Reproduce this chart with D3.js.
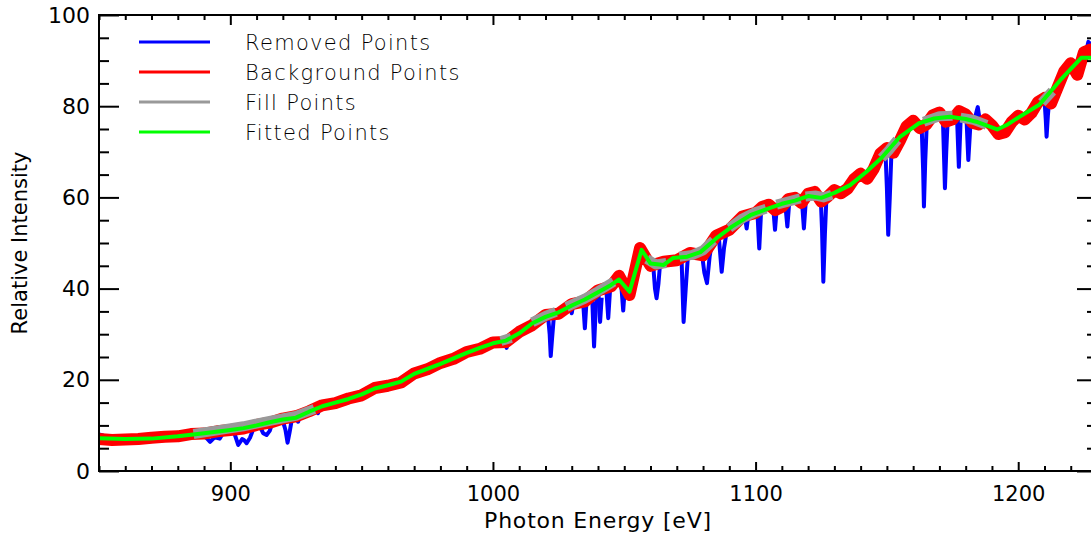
<!DOCTYPE html>
<html>
<head>
<meta charset="utf-8">
<script src="https://cdn.jsdelivr.net/npm/d3@7"></script>
<style>
  html, body { margin: 0; padding: 0; background: #fff; overflow: hidden; }
  svg { display: block; }
  .lbl { font-family: "DejaVu Sans", "Liberation Sans", sans-serif; fill: #000; }
</style>
</head>
<body>
<div id="chart"></div>
<script>
// fitted curve (green)
const fitEnergy = [850, 860, 870, 880, 890, 900, 905, 910, 915, 920, 925, 930, 935, 940, 945, 950, 955, 960, 965, 970,
  975, 980, 985, 990, 995, 1000, 1005, 1010, 1015, 1020, 1025, 1030, 1035, 1040, 1045, 1048, 1052, 1056.6, 1060, 1065,
  1068.5, 1074, 1079, 1085, 1091, 1098, 1105, 1110, 1115, 1120, 1125, 1130, 1136, 1142, 1148, 1155, 1162, 1168, 1174, 1180,
  1184, 1192, 1196, 1200, 1208, 1216, 1224, 1230];
const fitIntensity = [7.2, 7.0, 7.1, 7.6, 8.3, 9.0, 9.4, 10.0, 10.7, 11.3, 11.7, 13.0, 14.2, 15.0, 15.8, 16.8, 18.1, 18.8, 19.6, 21.3,
  22.4, 23.5, 24.7, 25.9, 27.0, 28.0, 28.6, 30.2, 32.4, 33.8, 34.8, 36.3, 37.6, 39.2, 40.8, 42.0, 39.3, 48.5, 45.5, 45.2,
  46.7, 47.0, 48.0, 51.0, 53.6, 56.1, 57.6, 58.6, 59.3, 60.3, 59.9, 61.0, 62.7, 65.5, 68.7, 73.3, 76.2, 77.3, 77.7, 77.2,
  76.6, 74.9, 76.0, 77.5, 80.3, 85.7, 90.6, 90.6];

// background points (red)
const bgEnergy = [850, 855, 860, 865, 870, 875, 880, 885, 890, 895, 900, 905, 910, 915, 920, 925, 930, 935, 940, 945,
  950, 955, 960, 965, 970, 975, 980, 985, 990, 995, 1000, 1005, 1010, 1015, 1020, 1025, 1030, 1035, 1040, 1045,
  1048, 1052, 1056, 1060, 1065, 1070, 1075, 1080, 1085, 1090, 1095,
  1100, 1102.5, 1105, 1107.5, 1110, 1112.5, 1115, 1117.5, 1120, 1122.5, 1125, 1127.5, 1130, 1132.5, 1135, 1137.5,
  1140, 1142.5, 1145, 1147.5, 1150, 1152.5, 1155, 1157.5, 1160, 1162.5, 1165, 1167.5, 1170, 1172.5, 1175, 1177.5,
  1180, 1182.5, 1185, 1187.5, 1190, 1192.5, 1195, 1197.5, 1200, 1202.5, 1205, 1207.5, 1210, 1212.5, 1215, 1217.5,
  1220, 1222.5, 1225, 1227.5, 1230];
const bgIntensity = [7.0, 6.8, 6.9, 7.0, 7.3, 7.5, 7.6, 8.1, 8.2, 8.7, 9.0, 9.3, 10.1, 10.6, 11.5, 12.0, 13.1, 14.4, 14.9, 15.9,
  16.6, 18.2, 18.7, 19.4, 21.4, 22.3, 23.7, 24.6, 26.1, 26.8, 28.2, 28.3, 30.5, 32.0, 34.2, 34.5, 36.6, 37.2, 39.6, 40.5,
  42.8, 38.6, 48.9, 45.0, 45.9, 46.2, 47.8, 47.3, 51.6, 52.9, 55.8,
  56.6, 57.9, 58.4, 57.2, 57.9, 59.6, 59.9, 58.8, 60.8, 61.2, 59.1, 60.2, 61.6, 60.9, 61.9, 64.0,
  65.2, 64.1, 66.3, 69.6, 70.8, 69.8, 72.5, 75.6, 76.8, 75.2, 76.0, 78.0, 78.6, 76.6, 77.1, 78.9,
  78.2, 76.4, 76.0, 77.1, 75.8, 73.9, 74.3, 76.5, 77.9, 77.1, 78.5, 80.9, 81.8, 80.6, 84.1, 87.6,
  89.4, 86.9, 91.8, 92.4, 91.0];

// fill points (grey), one list per gap
const fillSegments = [
  [[886, 8.1], [895, 8.9], [905, 9.8], [915, 11.0], [925, 12.1], [932, 13.6]],
  [[1003, 28.5], [1007, 29.2]],
  [[1015, 32.6], [1020, 34.0], [1024, 34.9]],
  [[1028, 36.0], [1035, 37.8], [1040, 39.4], [1046, 41.5]],
  [[1058.6, 46.5], [1062, 45.3], [1066, 45.6]],
  [[1071, 47.0], [1076, 47.4], [1080, 48.4], [1084, 50.6]],
  [[1090, 53.3], [1095, 55.4], [1100, 56.8], [1104, 57.5]],
  [[1108, 58.4], [1112, 59.0], [1117, 59.8]],
  [[1119, 60.2], [1123, 60.4], [1126, 60.0], [1129, 60.6]],
  [[1148, 68.6], [1151, 70.5], [1154, 72.6]],
  [[1164, 76.6], [1170, 77.8], [1175, 77.9]],
  [[1178, 77.5], [1183, 77.0], [1188, 75.9]],
  [[1209, 80.8], [1213, 83.3]]
];

// removed points (blue), one list per absorption feature
const removedSegments = [
  [[850, 8.0], [851.5, 7.8], [852, 7.2]],
  [[889, 8.2], [891, 7.2], [892.3, 6.4], [894, 7.4], [896, 7.1], [897.5, 8.6]],
  [[901, 9.0], [902, 7.5], [903, 5.7], [904.5, 7.0], [905.2, 6.8], [906.2, 6.1], [907.5, 7.3], [909, 9.6]],
  [[911, 10.1], [912.5, 8.3], [913.8, 7.9], [915, 8.8], [916, 10.6]],
  [[920, 11.0], [921, 9.0], [921.8, 6.2], [922.6, 8.6], [923.5, 11.6]],
  [[925, 12.0], [925.8, 10.8], [926.6, 12.2]],
  [[932.5, 13.9], [933.4, 12.7], [934.2, 14.2]],
  [[1004.6, 28.6], [1005.2, 27.0], [1005.8, 28.8]],
  [[1021, 33.8], [1021.6, 30.0], [1022, 25.2], [1022.5, 29.0], [1023.2, 33.9]],
  [[1029.5, 35.9], [1030, 34.6], [1030.5, 36.2]],
  [[1034.3, 37.4], [1035, 31.3], [1035.6, 37.1]],
  [[1037.8, 37.8], [1038.5, 27.3], [1039.2, 36.5], [1040, 38.5]],
  [[1040.2, 38.6], [1040.8, 32.7], [1041.4, 38.0]],
  [[1043.2, 39.5], [1043.9, 33.5], [1044.6, 39.9]],
  [[1048.9, 40.5], [1049.6, 35.2], [1050.3, 40.8]],
  [[1061, 45.3], [1061.7, 40.0], [1062.3, 37.9], [1063, 41.0], [1063.6, 45.2]],
  [[1071.8, 46.8], [1072.6, 32.7], [1073.4, 40.0], [1074.2, 46.9]],
  [[1079.5, 48.0], [1080.5, 43.5], [1081.5, 41.2], [1082.5, 47.0], [1083, 48.8]],
  [[1086, 51.3], [1087.1, 43.7], [1088, 49.0], [1089, 52.5]],
  [[1096, 55.5], [1096.6, 53.2], [1097.2, 55.9]],
  [[1100.7, 56.7], [1101.4, 48.8], [1102.1, 57.0]],
  [[1106.7, 57.9], [1107.4, 52.9], [1108.1, 58.0]],
  [[1111.3, 58.6], [1112.1, 53.6], [1112.8, 58.8]],
  [[1117.6, 59.6], [1118.4, 53.2], [1119.2, 59.9]],
  [[1124.8, 60.1], [1125.3, 53.0], [1125.8, 41.5], [1126.4, 52.0], [1127, 60.3]],
  [[1149.5, 69.4], [1150, 62.0], [1150.5, 51.8], [1151.1, 60.0], [1151.8, 70.9]],
  [[1163.2, 76.2], [1163.8, 66.0], [1164.1, 58.0], [1164.6, 68.0], [1165.2, 76.4]],
  [[1171.3, 77.7], [1171.8, 68.0], [1172.1, 62.0], [1172.6, 70.0], [1173.2, 77.7]],
  [[1176.7, 77.6], [1177.4, 66.7], [1178.1, 77.4]],
  [[1180.3, 77.3], [1181, 68.2], [1181.7, 75.0], [1182.4, 77.0]],
  [[1183.5, 77.0], [1184, 78.5], [1184.6, 79.8], [1185.2, 77.5]],
  [[1210, 81.5], [1210.5, 77.0], [1210.8, 73.3], [1211.3, 78.0], [1212, 82.5]],
  [[1225.5, 91.0], [1226.7, 94.1], [1227.5, 93.6], [1228.5, 91.5], [1230, 91.0]]
];

const legendNames = ['Removed Points', 'Background Points', 'Fill Points', 'Fitted Points'];
const legendColors = ['#0000ff', '#ff0000', '#999999', '#00ff00'];

const xMajorTicks = [900, 1000, 1100, 1200];
const yMajorTicks = [0, 20, 40, 60, 80, 100];

const width = 1091, height = 533;
const margin = { left: 99, right: 1097, top: 15, bottom: 471 };

const svg = d3.select('#chart').append('svg')
  .attr('width', width)
  .attr('height', height);

const x = d3.scaleLinear().domain([850, 1230]).range([margin.left, margin.right]);
const y = d3.scaleLinear().domain([0, 100]).range([margin.bottom, margin.top]);

svg.append('clipPath').attr('id', 'plotclip')
  .append('rect')
  .attr('x', margin.left).attr('y', margin.top)
  .attr('width', margin.right - margin.left).attr('height', margin.bottom - margin.top);

const line = d3.line().x(d => x(d[0])).y(d => y(d[1]));
const plot = svg.append('g').attr('clip-path', 'url(#plotclip)');

// 被去掉的点
plot.selectAll('path.removed')
  .data(removedSegments)
  .enter().append('path')
  .attr('class', 'removed')
  .attr('d', line)
  .attr('fill', 'none')
  .attr('stroke', legendColors[0])
  .attr('stroke-width', 4)
  .attr('stroke-linejoin', 'round');

// 背景点
plot.append('path')
  .attr('d', line(bgEnergy.map((e, i) => [e, bgIntensity[i]])))
  .attr('fill', 'none')
  .attr('stroke', legendColors[1])
  .attr('stroke-width', 12)
  .attr('stroke-linejoin', 'round');

// 填充点
plot.selectAll('path.fill')
  .data(fillSegments)
  .enter().append('path')
  .attr('class', 'fill')
  .attr('d', line)
  .attr('fill', 'none')
  .attr('stroke', legendColors[2])
  .attr('stroke-width', 10)
  .attr('stroke-linejoin', 'round');

// 拟合曲线
plot.append('path')
  .attr('d', line(fitEnergy.map((e, i) => [e, fitIntensity[i]])))
  .attr('fill', 'none')
  .attr('stroke', legendColors[3])
  .attr('stroke-width', 4)
  .attr('stroke-linejoin', 'round');

// 坐标轴
const xMinor = d3.range(850, 1231, 10).filter(v => !xMajorTicks.includes(v));
const yMinor = d3.range(0, 101, 5).filter(v => !yMajorTicks.includes(v));

function styleAxis(g) {
  g.select('.domain').remove();
  g.selectAll('line').attr('stroke', '#000').attr('stroke-width', 2);
  g.selectAll('text').attr('class', 'lbl').attr('fill', '#000');
}

svg.append('g').attr('transform', `translate(0,${margin.bottom})`)
  .call(d3.axisBottom(x).tickValues(xMajorTicks).tickSize(-9).tickPadding(15).tickFormat(d3.format('d')))
  .call(styleAxis)
  .selectAll('text').style('font-size', '21px');
svg.append('g').attr('transform', `translate(0,${margin.bottom})`)
  .call(d3.axisBottom(x).tickValues(xMinor).tickSize(-5).tickFormat(''))
  .call(styleAxis);
svg.append('g').attr('transform', `translate(0,${margin.top})`)
  .call(d3.axisTop(x).tickValues(xMajorTicks).tickSize(-10).tickFormat(''))
  .call(styleAxis);
svg.append('g').attr('transform', `translate(0,${margin.top})`)
  .call(d3.axisTop(x).tickValues(xMinor).tickSize(-5).tickFormat(''))
  .call(styleAxis);

svg.append('g').attr('transform', `translate(${margin.left},0)`)
  .call(d3.axisLeft(y).tickValues(yMajorTicks).tickSize(-20).tickPadding(9))
  .call(styleAxis)
  .selectAll('text').style('font-size', '22px');
svg.append('g').attr('transform', `translate(${margin.left},0)`)
  .call(d3.axisLeft(y).tickValues(yMinor).tickSize(-10).tickFormat(''))
  .call(styleAxis);
svg.append('g').attr('transform', `translate(${margin.right},0)`)
  .call(d3.axisRight(y).tickValues(yMajorTicks).tickSize(-20).tickFormat(''))
  .call(styleAxis);
svg.append('g').attr('transform', `translate(${margin.right},0)`)
  .call(d3.axisRight(y).tickValues(yMinor).tickSize(-10).tickFormat(''))
  .call(styleAxis);

// 边框
svg.append('rect')
  .attr('x', margin.left).attr('y', margin.top)
  .attr('width', margin.right - margin.left).attr('height', margin.bottom - margin.top)
  .attr('fill', 'none').attr('stroke', '#000').attr('stroke-width', 2);

// 轴标题
svg.append('text').attr('class', 'lbl')
  .attr('x', (margin.left + margin.right) / 2).attr('y', 528)
  .attr('text-anchor', 'middle').style('font-size', '22px').style('letter-spacing', '0.8px')
  .text('Photon Energy [eV]');
svg.append('text').attr('class', 'lbl')
  .attr('transform', `translate(27,${(margin.top + margin.bottom) / 2}) rotate(-90)`)
  .attr('text-anchor', 'middle').style('font-size', '21px')
  .text('Relative Intensity');

// 图例
const legend = svg.append('g').selectAll('g')
  .data(legendNames)
  .enter().append('g')
  .attr('transform', (d, i) => `translate(0,${42 + i * 30})`);
legend.append('line')
  .attr('x1', 139).attr('x2', 210)
  .attr('stroke', (d, i) => legendColors[i])
  .attr('stroke-width', 3);
legend.append('text').attr('class', 'lbl')
  .attr('x', 245).attr('y', 8)
  .style('font-size', '21px').style('font-weight', 200).style('letter-spacing', '1.3px')
  .text(d => d);
</script>
</body>
</html>
